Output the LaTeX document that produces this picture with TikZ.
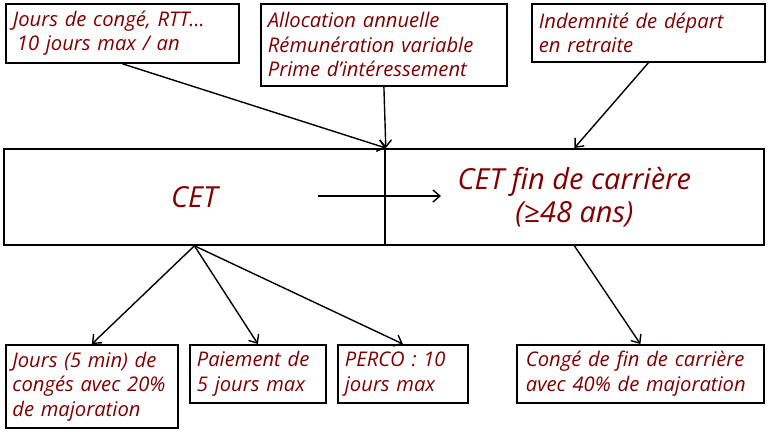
\documentclass[tikz,border=0pt]{standalone}
\usepackage{fontspec}
\setmainfont{Open Sans}
\usetikzlibrary{arrows.meta}
\definecolor{textred}{RGB}{128,0,0}
\tikzset{
  srcbox/.style={draw, line width=1.8pt, anchor=north west, align=left,
    inner xsep=6pt, text=textred, font=\itshape\fontsize{20.2}{24.5}\selectfont},
  cetbox/.style={draw, line width=1.8pt, anchor=north west, align=center,
    text=textred, font=\itshape\fontsize{29}{33}\selectfont},
  link/.style={-{Straight Barb[length=7pt,width=12pt]}, line width=1.4pt}
}

\begin{document}
\begin{tikzpicture}[x=1pt, y=-1pt]
    \useasboundingbox (0,0) rectangle (768,434);

    % Sources of the CET
    \node[srcbox, minimum width=233pt, minimum height=59pt, text width=219pt] (conges) at (5,3)
        {Jours de congé, RTT… \\ \hspace{4pt}10 jours max / an};
    \node[srcbox, minimum width=246pt, minimum height=82pt, text width=232pt] (alloc) at (260,3)
        {Allocation annuelle \\ Rémunération variable \\ Prime d’intéressement};
    \node[srcbox, minimum width=233pt, minimum height=58pt, text width=219pt] (indem) at (531,3)
        {Indemnité de départ \\ en retraite};

    % The two accounts
    \node[cetbox, minimum width=381pt, minimum height=96pt] (cet) at (3,148) {CET};
    \node[cetbox, minimum width=379pt, minimum height=96pt] (cetfin) at (384,148)
        {CET fin de carrière \\ (≥48 ans)};

    % Uses
    \node[srcbox, minimum width=172pt, minimum height=83pt, text width=159pt] (jours) at (5,344)
        {Jours (5 min) de \\ congés avec 20\% \\ de majoration};
    \node[srcbox, minimum width=136pt, minimum height=58pt, text width=122pt] (paiement) at (189,344)
        {Paiement de \\ 5 jours max};
    \node[srcbox, minimum width=130pt, minimum height=58pt, text width=116pt] (perco) at (337,344)
        {PERCO : 10 \\ jours max};
    \node[srcbox, minimum width=247pt, minimum height=58pt, text width=229pt] (congefin) at (516,344)
        {Congé de fin de carrière \\ avec 40\% de majoration};

    % Connectors
    \draw[link] (conges.south) -- (cet.north east);
    \draw[link] (alloc.south) -- (cet.north east);
    \draw[link] (indem.south) -- (cetfin.north);
    \coordinate (passA) at (318,196);
    \coordinate (passB) at (441,196);
    \draw[link] (passA) -- (passB);
    \foreach \target in {jours, paiement, perco} {
        \draw[link] (cet.south) -- (\target.north);
    }
    \draw[link] (cetfin.south) -- (congefin.north);
\end{tikzpicture}
\end{document}
